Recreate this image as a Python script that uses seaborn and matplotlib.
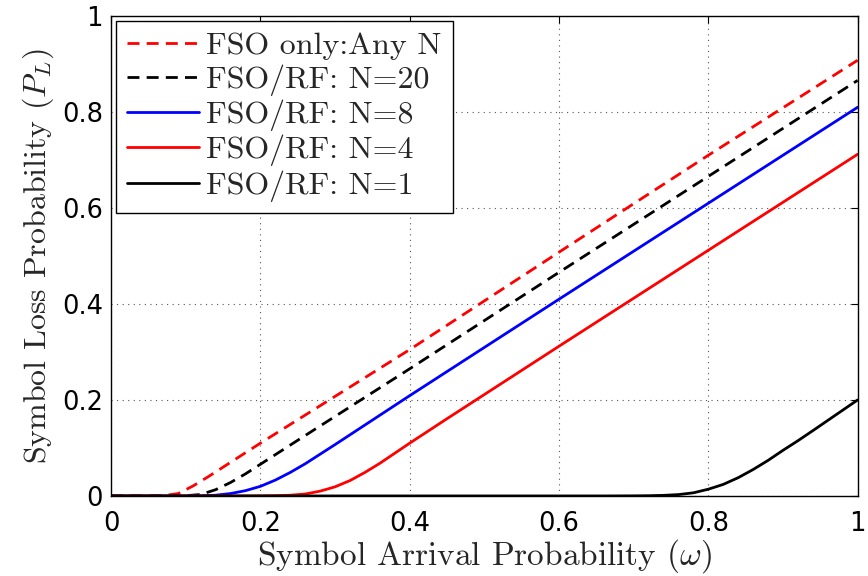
import matplotlib
matplotlib.use("Agg")
import matplotlib.pyplot as plt
import seaborn as sns
import pandas as pd

# ---- data ----
omega_fso = [0.0, 0.05, 0.07, 0.09, 0.11, 0.13, 0.15, 0.20, 0.40, 0.60, 0.80, 1.00]
pl_fso    = [0.0, 0.0, 0.0005, 0.005, 0.021, 0.040, 0.060, 0.110, 0.305, 0.508, 0.710, 0.908]

omega_n20 = [0.0, 0.08, 0.10, 0.12, 0.14, 0.16, 0.18, 0.20, 0.25, 0.40, 0.60, 0.80, 1.00]
pl_n20    = [0.0, 0.0, 0.0005, 0.003, 0.013, 0.028, 0.046, 0.066, 0.116, 0.265, 0.466, 0.666, 0.866]

omega_n8 = [0.0, 0.10, 0.12, 0.14, 0.16, 0.18, 0.20, 0.22, 0.24, 0.26, 0.28, 0.30, 0.35, 0.40, 0.60, 0.80, 1.00]
pl_n8    = [0.0, 0.0, 0.0003, 0.0015, 0.005, 0.011, 0.020, 0.033, 0.049, 0.067, 0.087, 0.107, 0.158, 0.209, 0.410, 0.610, 0.810]

omega_n4 = [0.0, 0.18, 0.20, 0.22, 0.24, 0.26, 0.28, 0.30, 0.32, 0.34, 0.36, 0.38, 0.40, 0.45, 0.60, 0.80, 1.00]
pl_n4    = [0.0, 0.0, 0.0002, 0.0006, 0.0015, 0.004, 0.010, 0.019, 0.032, 0.049, 0.068, 0.089, 0.110, 0.161, 0.312, 0.512, 0.712]

omega_n1 = [0.0, 0.66, 0.70, 0.72, 0.74, 0.76, 0.78, 0.80, 0.82, 0.84, 0.86, 0.88, 0.90, 0.92, 0.94, 0.97, 1.00]
pl_n1    = [0.0, 0.0, 0.0002, 0.0005, 0.0012, 0.0028, 0.0065, 0.014, 0.024, 0.038, 0.055, 0.074, 0.095, 0.115, 0.136, 0.168, 0.200]

labels = ["FSO only:Any N", "FSO/RF: N=20", "FSO/RF: N=8", "FSO/RF: N=4", "FSO/RF: N=1"]
xs = [omega_fso, omega_n20, omega_n8, omega_n4, omega_n1]
ys = [pl_fso, pl_n20, pl_n8, pl_n4, pl_n1]
colors = ["#ff0000", "#000000", "#0000ff", "#ff0000", "#000000"]
dashed = [True, True, False, False, False]

xticks = [0, 0.2, 0.4, 0.6, 0.8, 1]
yticks = [0, 0.2, 0.4, 0.6, 0.8, 1]
xtick_labels = ["0", "0.2", "0.4", "0.6", "0.8", "1"]
ytick_labels = ["0", "0.2", "0.4", "0.6", "0.8", "1"]

sns.set_style("white")
plt.rcParams["mathtext.fontset"] = "cm"
plt.rcParams["axes.formatter.use_mathtext"] = True

fig = plt.figure(figsize=(8.68, 5.76), dpi=100)
ax = fig.add_axes([0.128, 0.139, 0.860, 0.833])

for x, y, c, d, lab in zip(xs, ys, colors, dashed, labels):
    df = pd.DataFrame({"omega": x, "pl": y})
    sns.lineplot(data=df, x="omega", y="pl", ax=ax, color=c, lw=2.0,
                 label=lab, sort=False)
    ln = ax.get_lines()[-1]
    if d:
        ln.set_dashes((4.3, 2.6))

ax.set_xlim(0, 1)
ax.set_ylim(0, 1)
ax.set_xticks(xticks)
ax.set_yticks(yticks)
ax.set_xticklabels(xtick_labels, fontfamily="DejaVu Sans", fontsize=18.5)
ax.set_yticklabels(ytick_labels, fontfamily="DejaVu Sans", fontsize=18.5)
ax.tick_params(axis="x", direction="in", length=5, width=0.8, top=True, pad=11, colors="black")
ax.tick_params(axis="y", direction="in", length=5, width=0.8, right=True, pad=6, colors="black")
for s in ax.spines.values():
    s.set_visible(True)
    s.set_color("black")
    s.set_linewidth(1.0)
ax.grid(True, linestyle=(0, (1, 4)), color="#555555", linewidth=0.8)

ax.set_xlabel(r"Symbol Arrival Probability ($\omega$)", fontfamily="cmr10", fontsize=24, labelpad=0)
ax.set_ylabel(r"Symbol Loss Probability ($P_L$)", fontfamily="cmr10", fontsize=23, labelpad=4)

leg = ax.legend(loc="upper left", prop={"family": "cmr10", "size": 23}, frameon=True,
                fancybox=False, edgecolor="black", framealpha=1, borderaxespad=0.15,
                handlelength=2.25, handletextpad=0.22, labelspacing=0.12, borderpad=0.35)
leg.get_frame().set_linewidth(1.0)

fig.savefig("out.png", dpi=100)
